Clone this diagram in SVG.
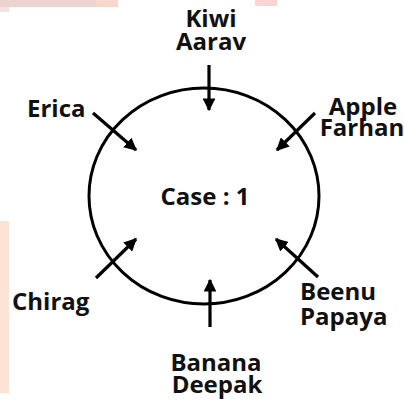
<svg xmlns="http://www.w3.org/2000/svg" width="404" height="402" viewBox="0 0 404 402">
<style>
text{font-family:"Open Sans","Liberation Sans",sans-serif;font-weight:bold;font-size:24px;fill:#111}
.c{stroke:#000;stroke-width:3;fill:none}
.a{stroke:#000;stroke-width:3.2;fill:none;marker-end:url(#ah)}
</style>
<defs>
<marker id="ah" viewBox="0 0 10 10" refX="9" refY="5" markerWidth="4" markerHeight="4" orient="auto" markerUnits="strokeWidth">
<path d="M0,0 L10,5 L0,10 Z" fill="#000"/>
</marker>
</defs>
<rect width="404" height="402" fill="#fff"/>
<g id="watermark">
<rect x="0" y="0" width="118" height="7" fill="#ecd3cf"/>
<rect x="96" y="0" width="22" height="7" fill="#f8d8cc"/>
<rect x="0" y="7" width="9" height="5" fill="#f3e3e0"/>
<rect x="255" y="0" width="22" height="6" fill="#fcd4d4"/>
<rect x="0" y="221" width="9" height="172" fill="#fde3d6"/>
</g>
<g id="circle"><ellipse class="c" cx="204" cy="196" rx="115" ry="108"/></g>
<g id="connectors">
<line class="a" x1="209" y1="65" x2="209" y2="110"/>
<line class="a" x1="210" y1="327" x2="210" y2="280"/>
<line class="a" x1="93" y1="113" x2="136" y2="150"/>
<line class="a" x1="315" y1="113" x2="277" y2="150"/>
<line class="a" x1="96" y1="278" x2="136" y2="239"/>
<line class="a" x1="318" y1="277" x2="276" y2="239"/>
</g>
<g id="center"><text x="205" y="205" text-anchor="middle">Case : 1</text></g>
<g id="top"><text text-anchor="middle"><tspan x="211" y="27">Kiwi</tspan><tspan x="211" y="50">Aarav</tspan></text></g>
<g id="erica"><text x="27" y="117">Erica</text></g>
<g id="apple"><text text-anchor="middle"><tspan x="363" y="115">Apple</tspan><tspan x="362" y="136">Farhan</tspan></text></g>
<g id="chirag"><text x="12" y="310">Chirag</text></g>
<g id="beenu"><text><tspan x="300" y="300">Beenu</tspan><tspan x="300" y="325">Papaya</tspan></text></g>
<g id="bottom"><text text-anchor="middle"><tspan x="216" y="371">Banana</tspan><tspan x="217" y="393">Deepak</tspan></text></g>
</svg>
